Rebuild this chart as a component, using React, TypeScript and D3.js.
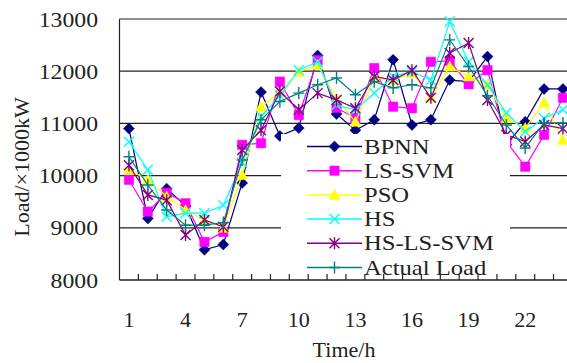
import React, { Component } from 'react';
import * as d3 from 'd3';

// hourly load forecast comparison
const hours = [1, 2, 3, 4, 5, 6, 7, 8, 9, 10, 11, 12, 13, 14, 15, 16, 17, 18, 19, 20, 21, 22, 23, 24];
const hourLabels = [1, 4, 7, 10, 13, 16, 19, 22];
const yTicks = [8000, 9000, 10000, 11000, 12000, 13000];

const bpnn = [10900, 9180, 9750, 9420, 8580, 8680, 9860, 11600, 10760, 10910, 12300, 11180, 10870, 11070, 12220, 10970, 11070, 11830, 11800, 12280, 10590, 11030, 11660, 11660];
const lssvm = [9920, 9310, 9670, 9470, 8730, 8920, 10590, 10620, 11800, 11160, 12210, 11300, 11100, 12060, 11320, 11290, 12180, 12200, 11750, 12020, 10650, 10170, 10780, 11490];
const pso = [10110, 9920, 9600, 9340, 9150, 9000, 10010, 11320, 11600, 11990, 12120, 11470, 11030, 11870, 11830, 11970, 11500, 12090, 11900, 11740, 11100, 10910, 11400, 10680];
const hs = [10650, 10110, 9210, 9280, 9280, 9430, 10240, 11130, 11530, 12020, 12180, 11350, 11260, 11580, 11900, 11990, 11830, 12950, 12180, 11740, 11200, 10840, 11100, 11260];
const hslssvm = [10200, 9630, 9530, 8860, 9150, 9020, 10490, 10870, 11610, 11260, 11580, 11450, 11290, 11900, 11830, 12020, 11490, 12350, 12540, 11450, 10780, 10650, 10970, 10900];
const actual = [10360, 9820, 9340, 9050, 9050, 9100, 10300, 11070, 11420, 11580, 11740, 11870, 11550, 11800, 11680, 11740, 11680, 12600, 12090, 11530, 10970, 10530, 11010, 11010];

const seriesNames = ['BPNN', 'LS-SVM', 'PSO', 'HS', 'HS-LS-SVM', 'Actual Load'];
const seriesValues = [bpnn, lssvm, pso, hs, hslssvm, actual];
const seriesColors = ['#000080', '#ff00ff', '#ffff00', '#00ffff', '#800080', '#008080'];
const seriesShapes = ['diamond', 'square', 'triangle', 'cross', 'star', 'plus'];

const FONT = '"Liberation Serif", "Times New Roman", serif';

// marker path centred on 0,0
function markerPath(shape: string): string {
    switch (shape) {
        case 'diamond': return 'M0,-5.5L5.5,0L0,5.5L-5.5,0Z';
        case 'square': return 'M-4.7,-4.7H4.7V4.7H-4.7Z';
        case 'triangle': return 'M0,-5.5L5.5,4.5L-5.5,4.5Z';
        case 'cross': return 'M-5,-5L5,5M-5,5L5,-5';
        case 'star': return 'M-5,-5L5,5M-5,5L5,-5M0,-6V6';
        default: return 'M-5.5,0H5.5M0,-6V6';
    }
}

export default class App extends Component {
    svgRef: React.RefObject<SVGSVGElement>;

    constructor(props: any) {
        super(props);
        this.svgRef = React.createRef();
        this.drawGraph = this.drawGraph.bind(this);
    }

    componentDidMount() {
        this.drawGraph();
    }

    drawGraph() {
        var width = 567;
        var height = 363;
        var left = 119.5;
        var right = 572.4;
        var top = 19;
        var bottom = 280;

        var svg = d3.select(this.svgRef.current);
        svg.selectAll('*').remove();
        svg.attr('width', width).attr('height', height);

        var x = d3.scaleBand<number>()
            .domain(hours)
            .range([left, right]);
        var cx = (h: number) => (x(h) as number) + x.bandwidth() / 2;

        var y = d3.scaleLinear()
            .domain([8000, 13000])
            .range([bottom, top]);

        // grid lines
        svg.append('g')
            .selectAll('line')
            .data(yTicks.slice(1))
            .enter().append('line')
            .attr('x1', left).attr('x2', right)
            .attr('y1', d => y(d)).attr('y2', d => y(d))
            .attr('stroke', '#222').attr('stroke-width', 1.2);

        // y labels
        svg.append('g')
            .selectAll('text')
            .data(yTicks)
            .enter().append('text')
            .attr('transform', d => 'translate(98,' + (y(d) + 7.5) + ') scale(1.13,1)')
            .attr('text-anchor', 'end')
            .attr('font-family', FONT)
            .attr('font-size', 21)
            .attr('fill', '#222')
            .text(d => d);

        // x labels
        svg.append('g')
            .selectAll('text')
            .data(hourLabels)
            .enter().append('text')
            .attr('transform', d => 'translate(' + cx(d) + ',327) scale(1.05,1)')
            .attr('text-anchor', 'middle')
            .attr('font-family', FONT)
            .attr('font-size', 21)
            .attr('fill', '#222')
            .text(d => d);

        // axis titles
        svg.append('text')
            .attr('transform', 'translate(344,357)')
            .attr('text-anchor', 'middle')
            .attr('font-family', FONT)
            .attr('font-size', 22)
            .attr('fill', '#222')
            .text('Time/h');
        svg.append('text')
            .attr('transform', 'translate(29,167) rotate(-90)')
            .attr('text-anchor', 'middle')
            .attr('font-family', FONT)
            .attr('font-size', 22)
            .attr('fill', '#222')
            .text('Load/×1000kW');

        // series lines then markers
        var line = d3.line<number>()
            .x((d, i) => cx(hours[i]))
            .y(d => y(d));

        seriesValues.forEach(function (vals, s) {
            var g = svg.append('g');
            g.append('path')
                .attr('d', line(vals) as string)
                .attr('fill', 'none')
                .attr('stroke', seriesColors[s])
                .attr('stroke-width', 1.2);
            var filled = s < 3;
            g.selectAll('path.m')
                .data(vals)
                .enter().append('path')
                .attr('class', 'm')
                .attr('transform', (d, i) => 'translate(' + cx(hours[i]) + ',' + y(d) + ')')
                .attr('d', markerPath(seriesShapes[s]))
                .attr('fill', filled ? seriesColors[s] : 'none')
                .attr('stroke', seriesColors[s])
                .attr('stroke-width', filled ? 0.5 : 1.4);
        });

        // legend with white box
        var legend = svg.append('g');
        legend.append('rect')
            .attr('x', 281).attr('y', 134)
            .attr('width', 229).attr('height', 139)
            .attr('fill', '#fff');
        seriesNames.forEach(function (name, s) {
            var ly = 146.5 + s * 24.2;
            var filled = s < 3;
            legend.append('line')
                .attr('x1', 307).attr('x2', 362)
                .attr('y1', ly).attr('y2', ly)
                .attr('stroke', seriesColors[s]).attr('stroke-width', 1.5);
            legend.append('path')
                .attr('transform', 'translate(334.5,' + ly + ')')
                .attr('d', markerPath(seriesShapes[s]))
                .attr('fill', filled ? seriesColors[s] : 'none')
                .attr('stroke', seriesColors[s])
                .attr('stroke-width', filled ? 0.5 : 1.4);
            legend.append('text')
                .attr('transform', 'translate(364,' + (ly + 7) + ') scale(1.2,1)')
                .attr('font-family', FONT)
                .attr('font-size', 20.5)
                .attr('fill', '#222')
                .text(name);
        });

        // axes frame and ticks
        svg.append('line')
            .attr('x1', left).attr('x2', left)
            .attr('y1', top).attr('y2', bottom)
            .attr('stroke', '#222').attr('stroke-width', 1.2);
        svg.append('line')
            .attr('x1', left).attr('x2', right)
            .attr('y1', bottom).attr('y2', bottom)
            .attr('stroke', '#222').attr('stroke-width', 1.4);
        svg.append('g')
            .selectAll('line')
            .data(hours.slice(1))
            .enter().append('line')
            .attr('x1', d => x(d) as number).attr('x2', d => x(d) as number)
            .attr('y1', bottom).attr('y2', bottom - 6)
            .attr('stroke', '#222').attr('stroke-width', 1.2);
    }

    render() {
        return (
            <svg ref={this.svgRef} style={{ position: 'absolute', left: 0, top: 0, background: '#fff' }}></svg>
        );
    }
}
